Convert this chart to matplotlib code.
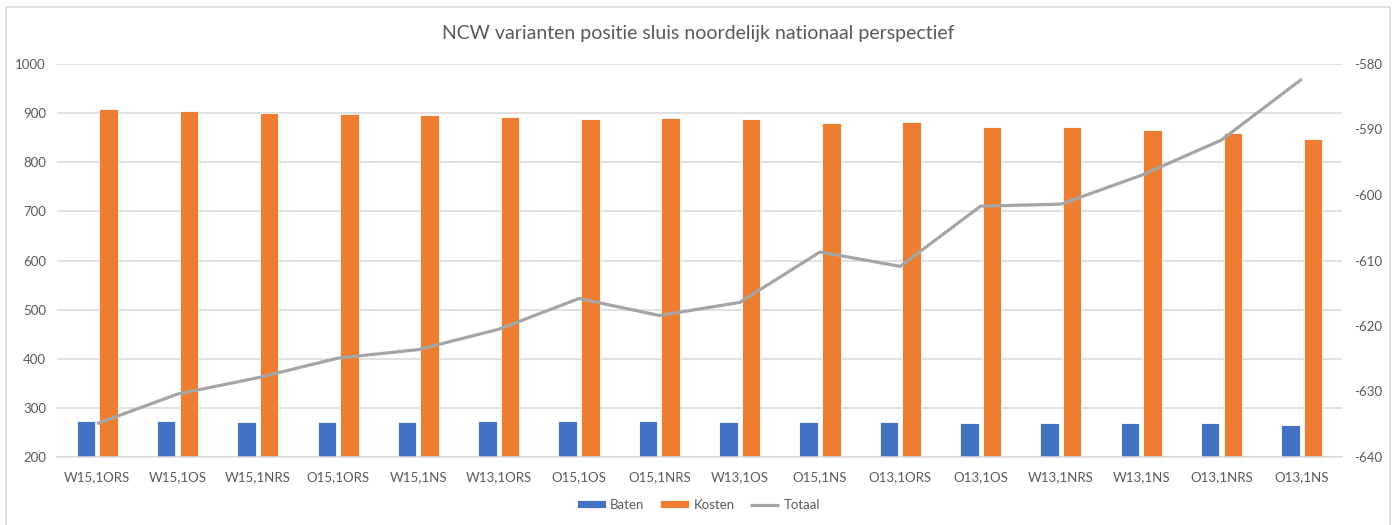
import matplotlib.pyplot as plt
import numpy as np
from matplotlib.patches import Rectangle

plt.rcParams['font.family'] = ['Lato', 'DejaVu Sans']
plt.rcParams['axes.unicode_minus'] = False

categories = ["W15,1ORS", "W15,1OS", "W15,1NRS", "O15,1ORS", "W15,1NS", "W13,1ORS",
              "O15,1OS", "O15,1NRS", "W13,1OS", "O15,1NS", "O13,1ORS", "O13,1OS",
              "W13,1NRS", "W13,1NS", "O13,1NRS", "O13,1NS"]
baten = [274, 274, 272, 272, 272, 273, 273, 273, 271, 271, 271, 269,
         269, 268.5, 268.5, 266]
kosten = [909, 904, 901, 898, 896, 893, 888, 890, 888, 880, 882, 871,
          871, 865, 859, 848]
totaal = [-634.9, -630.4, -627.9, -624.9, -623.6, -620.5, -615.8, -618.4,
          -616.4, -608.7, -610.9, -601.7, -601.4, -597.0, -591.6, -582.3]

BLUE = "#4472C4"
ORANGE = "#ED7D31"
GREY = "#A5A5A5"
TXT = "#595959"
GRID = "#D9D9D9"

fig = plt.figure(figsize=(13.97, 5.25), dpi=100)
ax = fig.add_axes([57 / 1397, 1 - 457 / 525, (1342 - 57) / 1397, (457 - 64) / 525])
ax2 = ax.twinx()

x = np.arange(len(categories))
w = 0.23
b1 = ax.bar(x - 0.141, baten, w, color=BLUE, edgecolor="white", linewidth=0.6,
            label="Baten", zorder=2)
b2 = ax.bar(x + 0.141, kosten, w, color=ORANGE, edgecolor="white", linewidth=0.6,
            label="Kosten", zorder=2)
ln, = ax2.plot(x, totaal, color=GREY, linewidth=2.3, label="Totaal", solid_capstyle="butt")

ax.set_xlim(-0.5, len(categories) - 0.5)
ax.set_ylim(200, 1000)
ax.set_yticks(range(200, 1001, 100))
ax2.set_ylim(-640, -580)
ax2.set_yticks(range(-640, -579, 10))

ax.yaxis.grid(True, color=GRID, linewidth=1.1, zorder=0)
ax.set_axisbelow(True)
for a in (ax, ax2):
    for s in a.spines.values():
        s.set_visible(False)
    a.tick_params(length=0, colors=TXT, labelsize=9.5)
ax.spines["bottom"].set_visible(True)
ax.spines["bottom"].set_color(GRID)
ax.spines["bottom"].set_linewidth(1.1)

ax.set_xticks(x)
ax.set_xticklabels(categories)
ax.tick_params(axis="x", pad=10)
ax.tick_params(axis="y", pad=8)
ax2.tick_params(axis="y", pad=9)

fig.suptitle("NCW varianten positie sluis noordelijk nationaal perspectief",
             y=1 - 33 / 525, va="center", fontsize=14, color=TXT)

fig.legend(handles=[b1, b2, ln], loc="center", bbox_to_anchor=(0.5, 1 - 505 / 525),
           ncol=3, frameon=False, fontsize=9.5, labelcolor=TXT, handlelength=2.2,
           handleheight=0.55, handletextpad=0.3, columnspacing=1.2)

fig.patches.append(Rectangle((6 / 1397, -0.01), 1384 / 1397, 1 - 7 / 525 + 0.01,
                             transform=fig.transFigure, fill=False,
                             edgecolor=GRID, linewidth=1.2))

fig.savefig("out.png", dpi=100)
